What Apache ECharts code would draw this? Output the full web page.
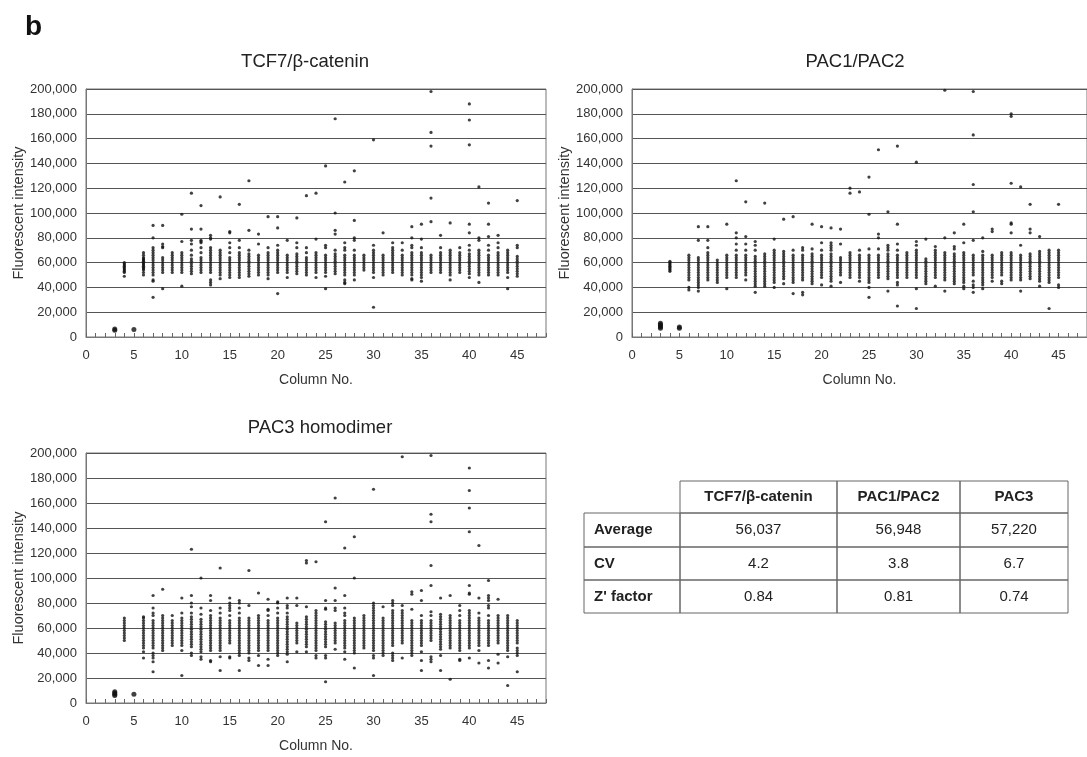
<!DOCTYPE html>
<html>
<head>
<meta charset="utf-8">
<script src="https://cdn.jsdelivr.net/npm/echarts@6/dist/echarts.min.js"></script>
<style>
html,body{margin:0;padding:0;background:#fff;}
#main{width:1087px;height:757px;}
</style>
</head>
<body>
<div id="main"></div>
<script>
// column numbers on the plate (x)
var columns=[3,4,5,6,7,8,9,10,11,12,13,14,15,16,17,18,19,20,21,22,23,24,25,26,27,28,29,30,31,32,33,34,35,36,37,38,39,40,41,42,43,44,45];
var xTickLabels=[0,5,10,15,20,25,30,35,40,45];
var controlCols=[3,5];

// fluorescent intensity per column, in thousands
var tcfValues=[
	[5.5,6.5],
	[49,52,53,54,55,56,57,58,59,60],
	[6],
	[50,52,54,55,56,57,58,59,60,61,62,63,64,66,68],
	[32,45,46,50,52,54,56,58,60,62,64,66,68,70,72,80,90],
	[39,52,54,56,58,60,62,64,72,73,75,90],
	[52,54,56,58,60,62,64,66,68],
	[41,52,54,56,58,60,62,64,66,68,77,99],
	[51,53,55,57,59,61,63,66,70,75,78,87,116],
	[52,54,56,58,60,62,64,68,72,76,77,78,87,106],
	[42,44,46,52,54,56,58,60,62,64,66,68,70,72,79,80,82],
	[47,50,52,54,56,58,60,62,64,66,68,70,113],
	[48,50,52,54,56,58,60,62,64,68,72,76,84,85],
	[48,50,52,54,56,58,60,62,64,66,68,72,78,107],
	[49,51,53,55,57,59,61,63,65,67,70,86,126],
	[50,52,54,56,58,60,62,64,66,75,83],
	[47,50,52,54,56,58,60,62,64,66,68,72,97],
	[35,52,54,56,58,60,62,64,66,68,70,74,88,97],
	[48,52,54,56,58,60,62,64,66,78],
	[51,53,55,57,59,61,63,65,67,72,76,96],
	[50,52,54,56,58,60,62,64,68,72,114],
	[48,52,54,56,58,60,62,64,66,68,79,116],
	[39,49,52,54,56,58,60,62,64,66,72,74,138],
	[51,53,55,57,59,61,63,65,67,70,83,86,100,176],
	[43,44,46,50,52,54,56,58,60,62,64,66,70,72,76,125],
	[46,50,52,54,56,58,60,62,64,66,70,78,80,94,134],
	[54,56,58,60,62,64,66],
	[24,48,52,54,56,58,60,62,64,66,68,70,74,159],
	[50,52,54,56,58,60,62,64,66,84],
	[52,54,56,58,60,62,64,66,68,70,72,76],
	[50,52,54,56,58,60,62,64,66,70,76],
	[46,47,50,52,54,56,58,60,62,64,66,68,72,74,80,89],
	[45,48,50,52,54,56,58,60,62,64,66,68,72,79,91],
	[52,54,56,58,60,62,64,66,93,112,154,165,198],
	[52,54,56,58,60,62,64,66,68,72,82],
	[46,50,52,54,56,58,60,62,64,66,68,70,92],
	[52,54,56,58,60,62,64,66,68,72],
	[48,51,53,55,57,59,61,63,65,67,70,74,84,91,155,175,188],
	[44,50,52,54,56,58,60,62,64,66,68,70,78,80,121],
	[50,52,54,56,58,60,62,64,66,70,74,81,91,108],
	[50,52,54,56,58,60,62,64,66,68,72,76,82],
	[39,48,52,54,56,58,60,62,64,66,68,70],
	[49,51,53,55,57,59,61,63,65,72,74,110]
];

var pac12Values=[
	[7,8,9,10,11],
	[53,54,55,56,57,58,59,60,61],
	[7,8],
	[38,40,46,48,50,52,54,56,58,60,62,64,66],
	[37,40,42,44,46,48,50,52,54,56,58,60,62,64,78,89],
	[46,48,50,52,54,56,58,60,62,64,66,68,72,78,89],
	[44,46,48,50,52,54,56,58,60,62],
	[39,48,50,52,54,56,58,60,62,64,66,91],
	[48,50,52,54,56,58,60,62,64,66,70,75,80,84,126],
	[46,50,52,54,56,58,60,62,64,66,70,75,81,109],
	[36,41,43,45,47,49,51,53,55,57,59,61,63,65,70,74,77],
	[41,43,45,47,49,51,53,55,57,59,61,63,65,67,108],
	[40,44,46,48,50,52,54,56,58,60,62,64,66,68,70,79],
	[43,47,49,51,53,55,57,59,61,63,65,67,69,95],
	[35,44,46,48,50,52,54,56,58,60,62,64,66,70,97],
	[34,36,46,48,50,52,54,56,58,60,62,64,66,70,72],
	[43,45,47,49,51,53,55,57,59,61,63,65,67,71,91],
	[42,48,50,52,54,56,58,60,62,64,66,70,76,89],
	[41,45,47,49,51,53,55,57,59,61,63,65,67,70,72,74,76,88],
	[44,50,52,54,56,58,60,62,64,75,87],
	[48,50,52,54,56,58,60,62,64,66,68,116,120],
	[45,48,50,52,54,56,58,60,62,64,66,70,117],
	[32,40,44,46,48,50,52,54,56,58,60,62,64,66,71,99,129],
	[48,50,52,54,56,58,60,62,64,66,71,80,83,151],
	[37,47,49,51,53,55,57,59,61,63,65,67,70,72,74,101],
	[25,42,44,48,50,52,54,56,58,60,62,64,66,70,75,91,154],
	[48,50,52,54,56,58,60,62,64,66,68],
	[23,39,48,50,52,54,56,58,60,62,64,66,68,70,74,77,141],
	[43,45,47,49,51,53,55,57,59,61,63,79],
	[41,48,50,52,54,56,58,60,62,64,66,68,70,73],
	[37,46,48,50,52,54,56,58,60,62,64,66,68,80,199],
	[43,45,47,49,51,53,55,57,59,61,63,65,67,71,73,84],
	[39,41,44,46,48,50,52,54,56,58,60,62,64,66,68,76,91],
	[36,40,42,45,50,52,54,56,58,60,62,64,66,78,101,123,163,198],
	[39,42,44,46,48,50,52,54,56,58,60,62,64,66,69,80],
	[45,48,50,52,54,56,58,60,62,64,66,85,87],
	[43,45,50,52,54,56,58,60,62,64,66,68],
	[46,48,50,52,54,56,58,60,62,64,66,68,84,91,92,124,178,180],
	[37,46,48,50,52,54,56,58,60,62,64,66,74,121],
	[47,49,51,53,55,57,59,61,63,65,67,84,87,107],
	[41,45,47,49,51,53,55,57,59,61,63,65,67,69,81],
	[23,44,46,48,50,52,54,56,58,60,62,64,66,68,70],
	[40,42,48,50,52,54,56,58,60,62,64,66,68,70,107]
];

var pac3Values=[
	[6,7,8,9],
	[50,52,54,56,58,60,62,64,66,68],
	[7],
	[36,41,44,46,48,50,52,54,56,58,60,62,64,66,68,69],
	[25,33,36,38,40,44,46,48,50,52,54,56,58,60,62,64,66,70,72,76,86],
	[42,44,46,48,50,52,54,56,58,60,62,64,66,68,70,91],
	[46,48,50,52,54,56,58,60,62,64,66,70],
	[22,42,46,48,50,52,54,56,58,60,62,64,66,68,72,84],
	[38,40,45,47,49,51,53,55,57,59,61,63,65,67,69,72,77,80,86,123],
	[35,37,41,43,45,47,49,51,53,55,57,59,61,63,65,67,71,76,100],
	[33,34,42,44,46,48,50,52,54,56,58,60,62,64,66,68,70,74,82,86],
	[26,37,42,44,46,48,50,52,54,56,58,60,62,64,66,68,72,76,108],
	[36,37,48,50,52,54,56,58,60,62,64,66,70,74,76,78,80,84],
	[26,38,40,42,44,46,48,50,52,54,56,58,60,62,64,66,68,72,76,80,82],
	[34,36,40,42,44,46,48,50,52,54,56,58,60,62,64,66,68,78,106],
	[30,38,42,44,46,48,50,52,54,56,58,60,62,64,66,68,70,88],
	[30,35,42,44,46,48,50,52,54,56,58,60,62,64,66,70,74,75,83],
	[38,40,42,44,46,48,50,52,54,56,58,60,62,64,66,68,72,76,80,81],
	[33,39,41,43,45,47,49,51,53,55,57,59,61,63,65,67,69,72,76,78,84],
	[41,48,50,52,54,56,58,60,62,64,78,84],
	[41,45,47,49,51,53,55,57,59,61,63,65,67,69,77,112,114],
	[36,38,42,44,46,48,50,52,54,56,58,60,62,64,66,68,70,72,74,113],
	[17,36,38,45,47,49,51,53,55,57,59,61,63,65,75,76,82,145],
	[43,48,50,52,54,56,58,60,62,64,74,76,82,92,164],
	[35,41,44,46,48,50,52,54,56,58,60,62,64,66,70,72,76,86,124],
	[28,40,42,44,46,48,50,52,54,56,58,60,62,64,66,68,100,133],
	[44,46,48,50,52,54,56,58,60,62,64,66,68,70],
	[22,36,38,42,44,46,48,50,52,54,56,58,60,62,64,66,68,70,72,74,76,78,80,171],
	[38,40,42,44,46,48,50,52,54,56,58,60,62,64,66,68,77],
	[34,36,38,40,46,48,50,52,54,56,58,60,62,64,66,68,70,72,74,78,80,82],
	[36,48,50,52,54,56,58,60,62,64,66,68,70,72,74,78,197],
	[38,40,42,44,46,48,50,52,54,56,58,60,62,64,66,75,87,89],
	[26,34,41,46,48,50,52,54,56,58,60,62,64,66,70,82,90],
	[33,35,37,50,52,54,56,58,60,62,64,66,70,73,94,110,145,151,198],
	[26,38,43,45,47,49,51,53,55,57,59,61,63,65,67,69,71,84],
	[19,44,46,48,50,52,54,56,58,60,62,64,66,68,70,86],
	[34,35,42,44,46,48,50,52,54,56,58,60,62,64,66,70,74,78],
	[36,44,46,48,50,52,54,56,58,60,62,64,66,68,70,72,74,87,88,94,137,156,170,188],
	[32,42,46,48,50,52,54,56,58,60,62,64,66,68,72,84,126],
	[28,34,46,48,50,52,54,56,58,60,62,64,66,70,76,78,82,84,86,98],
	[32,39,48,50,52,54,56,58,60,62,64,66,68,70,83],
	[14,37,42,44,46,48,50,52,54,56,58,60,62,64,66,68,70],
	[25,38,40,42,44,48,50,52,54,56,58,60,62,64,66]
];

// summary table
var tableHeader=['TCF7/\u03b2-catenin','PAC1/PAC2','PAC3'];
var tableRowNames=['Average','CV','Z\' factor'];
var tableValues=[
	['56,037','56,948','57,220'],
	['4.2','3.8','6.7'],
	['0.84','0.81','0.74']
];

var FONT='"Liberation Sans", Arial, sans-serif';

//把每列的数值展开成 [列号, 强度] 点
function toPoints(vals){
	var pts=[];
	for(var i=0;i<columns.length;i++){
		for(var j=0;j<vals[i].length;j++){
			pts.push([columns[i],vals[i][j]*1000]);
		}
	}
	return pts;
}

function makeX(idx){
	return {
		type:'value',gridIndex:idx,min:0,max:48,interval:1,
		name:'Column No.',nameLocation:'middle',nameGap:36,
		nameTextStyle:{fontFamily:FONT,fontSize:14,color:'#333'},
		axisLine:{show:true,lineStyle:{color:'#777',width:1}},
		axisTick:{show:true,inside:true,length:4,lineStyle:{color:'#666'}},
		axisLabel:{customValues:xTickLabels,margin:12,fontFamily:FONT,fontSize:13,color:'#333'},
		splitLine:{show:false}
	};
}
function makeY(idx){
	return {
		type:'value',gridIndex:idx,min:0,max:200000,interval:20000,
		name:'Fluorescent intensity',nameLocation:'middle',nameGap:60,
		nameTextStyle:{fontFamily:FONT,fontSize:14.5,color:'#333'},
		axisLine:{show:true,lineStyle:{color:'#777'}},
		axisTick:{show:false},
		axisLabel:{margin:9,fontFamily:FONT,fontSize:13,color:'#333',
			formatter:function(v){return v.toLocaleString('en-US');}},
		splitLine:{show:true,lineStyle:{color:'#555',width:1.2}}
	};
}
function makeSeries(idx,vals){
	return {
		type:'scatter',xAxisIndex:idx,yAxisIndex:idx,
		data:toPoints(vals),
		symbol:'circle',
		symbolSize:function(v){return controlCols.indexOf(v[0])>=0?5:3.2;},
		itemStyle:{color:'#111'},
		silent:true,animation:false
	};
}

//表格
function buildTable(){
	var colX=[584,680,837,960,1068];
	var rowY=[481,513,547,580,613];
	var els=[];
	var border={stroke:'#666',lineWidth:1,fill:'none'};
	for(var c=0;c<tableHeader.length;c++){
		els.push({type:'rect',shape:{x:colX[c+1],y:rowY[0],width:colX[c+2]-colX[c+1],height:rowY[1]-rowY[0]},style:border});
		els.push({type:'text',x:(colX[c+1]+colX[c+2])/2,y:(rowY[0]+rowY[1])/2,
			style:{text:tableHeader[c],font:'bold 15px '+FONT,fill:'#222',align:'center',verticalAlign:'middle'}});
	}
	for(var r=0;r<tableRowNames.length;r++){
		var y0=rowY[r+1],y1=rowY[r+2];
		els.push({type:'rect',shape:{x:colX[0],y:y0,width:colX[1]-colX[0],height:y1-y0},style:border});
		els.push({type:'text',x:colX[0]+10,y:(y0+y1)/2,
			style:{text:tableRowNames[r],font:'bold 15px '+FONT,fill:'#222',align:'left',verticalAlign:'middle'}});
		for(var k=0;k<tableValues[r].length;k++){
			els.push({type:'rect',shape:{x:colX[k+1],y:y0,width:colX[k+2]-colX[k+1],height:y1-y0},style:border});
			els.push({type:'text',x:(colX[k+1]+colX[k+2])/2,y:(y0+y1)/2,
				style:{text:tableValues[r][k],font:'15px '+FONT,fill:'#222',align:'center',verticalAlign:'middle'}});
		}
	}
	return els;
}

var chart=echarts.init(document.getElementById('main'));
var titles=[
	{type:'text',x:305,y:62,style:{text:'TCF7/\u03b2-catenin',font:'18.5px '+FONT,fill:'#222',align:'center',verticalAlign:'middle'}},
	{type:'text',x:855,y:62,style:{text:'PAC1/PAC2',font:'18.5px '+FONT,fill:'#222',align:'center',verticalAlign:'middle'}},
	{type:'text',x:320,y:428,style:{text:'PAC3 homodimer',font:'18.5px '+FONT,fill:'#222',align:'center',verticalAlign:'middle'}},
	{type:'text',x:25,y:27,style:{text:'b',font:'bold 28px '+FONT,fill:'#111',align:'left',verticalAlign:'middle'}}
];
var option={
	backgroundColor:'#ffffff',
	animation:false,
	grid:[
		{left:86,top:89,width:460,height:248,show:true,borderColor:'#777',borderWidth:1,backgroundColor:'transparent'},
		{left:632,top:89,width:459,height:248,show:true,borderColor:'#777',borderWidth:1,backgroundColor:'transparent'},
		{left:86,top:453,width:460,height:250,show:true,borderColor:'#777',borderWidth:1,backgroundColor:'transparent'}
	],
	xAxis:[makeX(0),makeX(1),makeX(2)],
	yAxis:[makeY(0),makeY(1),makeY(2)],
	series:[makeSeries(0,tcfValues),makeSeries(1,pac12Values),makeSeries(2,pac3Values)],
	graphic:titles.concat(buildTable())
};
chart.setOption(option);
</script>
</body>
</html>
